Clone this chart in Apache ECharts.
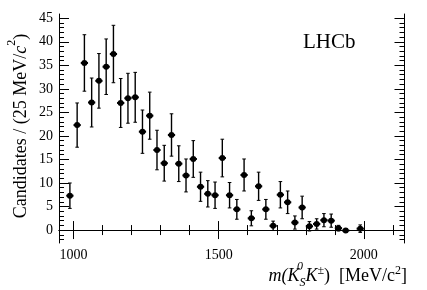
<!DOCTYPE html>
<html>
<head>
<meta charset="utf-8">
<script src="https://cdn.jsdelivr.net/npm/echarts@6/dist/echarts.min.js"></script>
<style>
html,body{margin:0;padding:0;background:#fff;}
#chart{width:427px;height:290px;}
</style>
</head>
<body>
<div id="chart"></div>
<script>
// Bin centres [MeV/c^2] (25 MeV bins)
const massCenters = [987.5, 1012.5, 1037.5, 1062.5, 1087.5, 1112.5, 1137.5, 1162.5, 1187.5, 1212.5,
  1237.5, 1262.5, 1287.5, 1312.5, 1337.5, 1362.5, 1387.5, 1412.5, 1437.5, 1462.5,
  1487.5, 1512.5, 1537.5, 1562.5, 1587.5, 1612.5, 1637.5, 1662.5, 1687.5, 1712.5,
  1737.5, 1762.5, 1787.5, 1812.5, 1837.5, 1862.5, 1887.5, 1912.5, 1937.5, 1987.5];
// Candidates per bin
const candidates = [7.3, 22.3, 35.5, 27.1, 31.7, 34.7, 37.4, 27.0, 28.0, 28.2,
  20.9, 24.3, 17.0, 14.2, 20.2, 14.1, 11.6, 15.1, 9.2, 7.7,
  7.4, 15.3, 7.4, 4.4, 11.7, 2.5, 9.3, 4.4, 0.9, 7.5,
  5.9, 1.6, 4.8, 0.8, 1.3, 2.1, 2.0, 0.4, -0.1, 0.3];
// Uncertainties (half-length of vertical error bars)
const errors = [2.7, 4.7, 6.0, 5.2, 5.8, 5.9, 6.1, 5.2, 5.3, 5.3,
  4.6, 5.0, 4.2, 3.8, 4.5, 3.8, 3.5, 3.9, 3.1, 2.8,
  2.8, 4.0, 2.7, 2.1, 3.4, 1.6, 3.0, 2.1, 1.0, 2.8,
  2.4, 1.4, 2.4, 1.0, 1.1, 1.4, 1.4, 0.6, 0.4, 0.8];
const binHalfWidth = 12.5;

// Tick values / labels
const xMajorTicks = [1000, 1500, 2000];
const xMinorTicks = [1000, 1100, 1200, 1300, 1400, 1500, 1600, 1700, 1800, 1900, 2000, 2100];
const yMajorTicks = [0, 5, 10, 15, 20, 25, 30, 35, 40, 45];
const yMinorTicks = [-2, -1, 0, 1, 2, 3, 4, 5, 6, 7, 8, 9, 10, 11, 12, 13, 14, 15, 16, 17, 18, 19, 20,
  21, 22, 23, 24, 25, 26, 27, 28, 29, 30, 31, 32, 33, 34, 35, 36, 37, 38, 39, 40, 41, 42, 43, 44, 45];

const X_MIN = 950, X_MAX = 2140, Y_MIN = -2.75, Y_MAX = 45.9;
const FONT = '"Liberation Serif", "DejaVu Serif", serif';

const data = massCenters.map((m, i) => [m, candidates[i], errors[i]]);

function xAxisDef(pos, ticks, len, withLabels, withLine) {
  return {
    type: 'value', position: pos, min: X_MIN, max: X_MAX, gridIndex: 0,
    axisLine: { show: withLine, lineStyle: { color: '#000', width: 1 } },
    axisTick: { show: true, inside: true, length: len, customValues: ticks, lineStyle: { color: '#000', width: 1 } },
    axisLabel: withLabels ? { show: true, customValues: xMajorTicks, formatter: v => String(v), color: '#000', fontFamily: FONT, fontSize: 14, margin: 5 } : { show: false },
    splitLine: { show: false }
  };
}
function yAxisDef(pos, ticks, len, withLabels, withLine) {
  return {
    type: 'value', position: pos, min: Y_MIN, max: Y_MAX, gridIndex: 0,
    axisLine: { show: withLine, lineStyle: { color: '#000', width: 1 } },
    axisTick: { show: true, inside: true, length: len, customValues: ticks, lineStyle: { color: '#000', width: 1 } },
    axisLabel: withLabels ? { show: true, customValues: yMajorTicks, formatter: v => String(v), color: '#000', fontFamily: FONT, fontSize: 14, margin: 6 } : { show: false },
    splitLine: { show: false }
  };
}

const chart = echarts.init(document.getElementById('chart'), null, { renderer: 'canvas' });
chart.setOption({
  backgroundColor: '#fff',
  animation: false,
  grid: { left: 59, top: 14, right: 22.5, bottom: 47, containLabel: false },
  xAxis: [
    xAxisDef('bottom', xMajorTicks, 9, true, true),
    xAxisDef('bottom', xMinorTicks, 5, false, false),
    xAxisDef('top', xMajorTicks, 9, false, true),
    xAxisDef('top', xMinorTicks, 5, false, false)
  ],
  yAxis: [
    yAxisDef('left', yMajorTicks, 10, true, true),
    yAxisDef('left', yMinorTicks, 5, false, false),
    yAxisDef('right', yMajorTicks, 10, false, true),
    yAxisDef('right', yMinorTicks, 5, false, false)
  ],
  series: [{
    type: 'custom',
    xAxisIndex: 0, yAxisIndex: 0,
    data: data,
    renderItem: function (params, api) {
      const x = api.value(0), y = api.value(1), e = api.value(2);
      const c = api.coord([x, y]);
      const lo = api.coord([x, y - e]);
      const hi = api.coord([x, y + e]);
      const l = api.coord([x - binHalfWidth, y]);
      const r = api.coord([x + binHalfWidth, y]);
      const st = { stroke: '#000', lineWidth: 1.4 };
      return {
        type: 'group',
        children: [
          { type: 'line', shape: { x1: c[0], y1: lo[1], x2: c[0], y2: hi[1] }, style: st },
          { type: 'line', shape: { x1: c[0] - 1.8, y1: lo[1], x2: c[0] + 1.8, y2: lo[1] }, style: { stroke: '#000', lineWidth: 1 } },
          { type: 'line', shape: { x1: c[0] - 1.8, y1: hi[1], x2: c[0] + 1.8, y2: hi[1] }, style: { stroke: '#000', lineWidth: 1 } },
          { type: 'line', shape: { x1: l[0], y1: c[1], x2: r[0], y2: c[1] }, style: { stroke: '#000', lineWidth: 2 } },
          { type: 'circle', shape: { cx: c[0], cy: c[1], r: 3 }, style: { fill: '#000' } }
        ]
      };
    }
  }],
  graphic: [
    {
      type: 'text', left: 303, top: 32,
      style: { text: 'LHCb', fill: '#000', font: '21px "Liberation Serif", serif' }
    },
    {
      type: 'text', x: 18, y: 126, rotation: Math.PI / 2,
      style: {
        text: '{a|Candidates / (25 MeV/}{i|c}{s|2}{a|)}',
        align: 'center', verticalAlign: 'middle', fill: '#000',
        rich: {
          a: { fontFamily: FONT, fontSize: 18, lineHeight: 24, verticalAlign: 'bottom', fill: '#000' },
          i: { fontFamily: FONT, fontSize: 18, fontStyle: 'italic', lineHeight: 24, verticalAlign: 'bottom', fill: '#000' },
          s: { fontFamily: FONT, fontSize: 12, lineHeight: 24, verticalAlign: 'top', fill: '#000' }
        }
      }
    },
    {
      type: 'text', x: 407, y: 276,
      style: {
        text: '{i|m(K}{sub|S}{i|K}{sup|\u00B1}{a|)  [MeV/c}{sup2|2}{a|]}',
        align: 'right', verticalAlign: 'middle', fill: '#000',
        rich: {
          a: { fontFamily: FONT, fontSize: 18, lineHeight: 26, verticalAlign: 'middle', fill: '#000' },
          i: { fontFamily: FONT, fontSize: 18, fontStyle: 'italic', lineHeight: 26, verticalAlign: 'middle', fill: '#000' },
          sub: { fontFamily: FONT, fontSize: 12, fontStyle: 'italic', lineHeight: 26, verticalAlign: 'bottom', fill: '#000' },
          sup: { fontFamily: FONT, fontSize: 12, fontStyle: 'italic', lineHeight: 26, verticalAlign: 'top', fill: '#000', padding: [2, 0, 0, 0] },
          sup2: { fontFamily: FONT, fontSize: 12, lineHeight: 26, verticalAlign: 'top', fill: '#000', padding: [2, 0, 0, 0] }
        }
      }
    },
    {
      type: 'text', x: 297, y: 267,
      style: { text: '0', fill: '#000', font: 'italic 12px "Liberation Serif", serif', align: 'left', verticalAlign: 'middle' }
    }
  ]
});
</script>
</body>
</html>
